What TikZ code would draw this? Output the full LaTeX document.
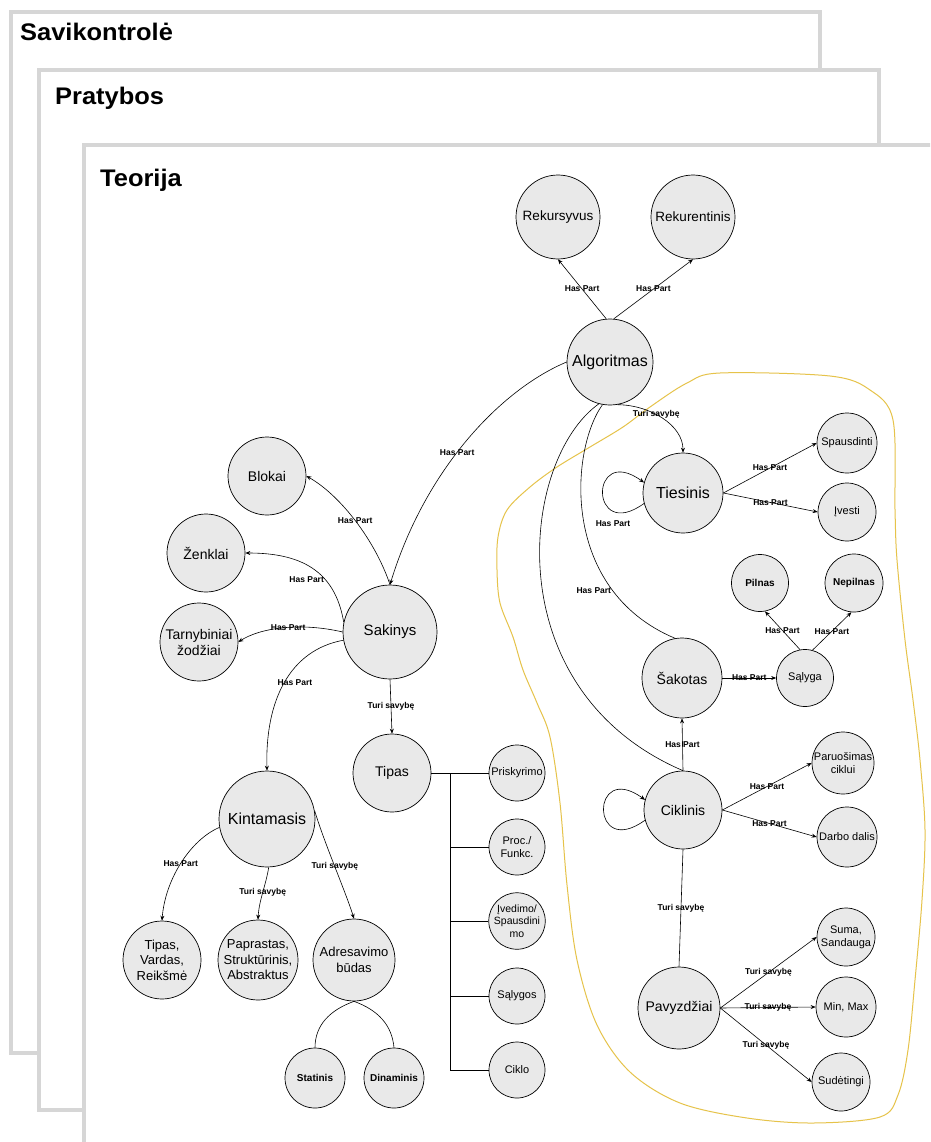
\documentclass[tikz,border=0pt]{standalone}
\usepackage{fontspec}
\setmainfont{Liberation Sans}
\usetikzlibrary{arrows.meta}
\definecolor{nodefill}{HTML}{E9E9E9}
\definecolor{framegray}{HTML}{D6D6D6}
\definecolor{lasso}{HTML}{E6C34A}

\begin{document}
\begin{tikzpicture}[x=1pt,y=-1pt,
  bub/.style={circle,draw=black,line width=0.7pt,fill=nodefill,inner sep=0pt,align=center},
  lg/.style={bub,font=\fontsize{14}{16}\selectfont},
  xl/.style={bub,font=\fontsize{16}{18}\selectfont},
  md/.style={bub,font=\fontsize{13}{15.5}\selectfont},
  sm/.style={bub,font=\fontsize{11}{13}\selectfont},
  smb/.style={bub,font=\bfseries\fontsize{10}{12}\selectfont},
  con/.style={draw=black,line width=0.6pt},
  arr/.style={-{Stealth[length=5pt,width=4pt]}},
  lbl/.style={font=\bfseries\fontsize{8.5}{9}\selectfont,inner sep=1pt},
  sheet/.style={draw=framegray,line width=3.5pt,fill=white},
  title/.style={font=\bfseries\fontsize{24}{27}\selectfont,anchor=base west,inner sep=0pt,xscale=1.06}
]
\useasboundingbox (0,0) rectangle (930,1142);
\clip (0,0) rectangle (930,1142);
\fill[white] (0,0) rectangle (930,1142);

% stacked sheets
\draw[sheet] (11,12) rectangle (820,1053);
\node[title] (t1) at (20,41) {Savikontrolė};
\draw[sheet] (39,70) rectangle (879,1110);
\node[title] (t2) at (55,105) {Pratybos};
\draw[sheet] (84,145) rectangle (945,1160);
\node[title] (t3) at (100,186) {Teorija};

% highlighted group outline
\draw[lasso,line width=1pt] plot[smooth cycle,tension=0.55] coordinates {
  (497,570) (498,537) (507,510) (530,487) (557,467) (590,447) (623,427)
  (650,407) (687,383) (720,373) (830,376) (870,390) (893,420) (895,510)
  (897,560) (905,640) (913,700) (920,760) (925,830) (922,900) (915,980)
  (908,1050) (898,1095) (880,1117) (813,1123) (747,1118) (680,1103)
  (630,1072) (597,1025) (577,960) (567,885) (560,803) (550,737) (537,703)
  (523,670) (513,637) (500,603)};

% concepts
\node[lg,minimum size=84pt,font=\fontsize{13.5}{16}\selectfont] (rek) at (558,217) {Rekursyvus};
\node[lg,minimum size=84pt,font=\fontsize{13.5}{16}\selectfont] (rekt) at (693,217) {Rekurentinis};
\node[xl,minimum size=86pt] (alg) at (610,362) {Algoritmas};
\node[lg,minimum size=78pt] (blo) at (267,476) {Blokai};
\node[lg,minimum size=78pt] (zen) at (206,553) {Ženklai};
\node[lg,minimum size=78pt] (tar) at (199,642) {Tarnybiniai\\žodžiai};
\node[lg,minimum size=94pt,font=\fontsize{15}{17}\selectfont] (sak) at (390,632) {Sakinys};
\node[lg,minimum size=78pt] (tip) at (392,773) {Tipas};
\node[xl,minimum size=96pt] (kin) at (267,819) {Kintamasis};
\node[md,minimum size=78pt] (tvr) at (162,960) {Tipas,\\Vardas,\\Reikšmė};
\node[md,minimum size=80pt] (pap) at (258,960) {Paprastas,\\Struktūrinis,\\Abstraktus};
\node[md,minimum size=82pt] (adr) at (354,960) {Adresavimo\\būdas};
\node[smb,minimum size=60pt] (sta) at (315,1078) {Statinis};
\node[smb,minimum size=60pt] (din) at (394,1078) {Dinaminis};
\node[sm,minimum size=56pt] (pri) at (517,773) {Priskyrimo};
\node[sm,minimum size=56pt] (pro) at (517,847) {Proc./\\Funkc.};
\node[sm,minimum size=56pt,font=\fontsize{10.5}{12.5}\selectfont] (ive) at (517,921) {Įvedimo/\\Spausdini\\mo};
\node[sm,minimum size=56pt] (sal) at (517,996) {Sąlygos};
\node[sm,minimum size=56pt] (cik) at (517,1070) {Ciklo};
\node[xl,minimum size=80pt] (tie) at (683,493) {Tiesinis};
\node[sm,minimum size=60pt] (spa) at (847,443) {Spausdinti};
\node[sm,minimum size=58pt] (ivs) at (847,512) {Įvesti};
\node[smb,minimum size=57pt] (pil) at (760,583) {Pilnas};
\node[smb,minimum size=58pt] (nep) at (854,583) {Nepilnas};
\node[sm,minimum size=57pt] (sly) at (805,678) {Sąlyga};
\node[lg,minimum size=80pt] (sak2) at (682,678) {Šakotas};
\node[lg,minimum size=78pt] (ckl) at (683,810) {Ciklinis};
\node[sm,minimum size=62pt] (par) at (843,763) {Paruošimas\\ciklui};
\node[sm,minimum size=60pt] (dar) at (847,837) {Darbo dalis};
\node[lg,minimum size=82pt] (pav) at (679,1008) {Pavyzdžiai};
\node[sm,minimum size=58pt] (sum) at (846,937) {Suma,\\Sandauga};
\node[sm,minimum size=60pt] (min) at (846,1007) {Min, Max};
\node[sm,minimum size=58pt] (sud) at (841,1082) {Sudėtingi};

% Algoritmas links
\draw[con,arr] (alg.95) -- (rek.south) node[lbl,midway]{Has Part};
\draw[con,arr] (alg.85) -- (rekt.south) node[lbl,midway]{Has Part};
\draw[con,arr] (alg.-80) .. controls (650,405) and (683,425) .. (tie.north)
  node[lbl,pos=0.42]{Turi savybę};
\draw[con] (alg.-100) .. controls (570,450) and (560,590) .. (sak2.100)
  node[lbl,pos=0.76,anchor=east]{Has Part};
\draw[con] (alg.-105) .. controls (520,460) and (495,690) .. (ckl.north);
\draw[con,arr] (alg.west) .. controls (500,390) and (425,470) .. (sak.north)
  node[lbl,pos=0.55]{Has Part};

% Sakinys links
\draw[con,arr] (sak.north) .. controls (375,540) and (340,495) .. (blo.east)
  node[lbl,pos=0.5]{Has Part};
\draw[con,arr] (sak.168) .. controls (335,570) and (300,553) .. (zen.east)
  node[lbl,pos=0.35,anchor=east]{Has Part};
\draw[con,arr] (sak.west) .. controls (300,622) and (260,628) .. (tar.east)
  node[lbl,pos=0.45]{Has Part};
\draw[con,arr] (sak.190) .. controls (290,650) and (265,700) .. (kin.north)
  node[lbl,pos=0.5,anchor=west,xshift=-8pt]{Has Part};
\draw[con,arr] (sak.south) -- (tip.north) node[lbl,midway]{Turi savybę};

% Tipas tree
\coordinate (trunk) at (450,773);
\draw[con] (tip.east) -- (pri.west);
\draw[con] (trunk) |- (cik.west);
\foreach \n in {pro,ive,sal} \draw[con] (trunk |- \n.west) -- (\n.west);

% Kintamasis links
\draw[con,arr] (kin.190) .. controls (190,840) and (165,880) .. (tvr.north)
  node[lbl,pos=0.5]{Has Part};
\draw[con,arr] (kin.-88) .. controls (266,885) and (259,900) .. (pap.north)
  node[lbl,pos=0.5]{Turi savybę};
\draw[con,arr] (kin.10) .. controls (325,845) and (345,890) .. (adr.north)
  node[lbl,pos=0.5]{Turi savybę};
\draw[con] (adr.south) .. controls (330,1010) and (315,1025) .. (sta.north);
\draw[con] (adr.south) .. controls (378,1010) and (392,1025) .. (din.north);

% Tiesinis links
\draw[con,arr] (tie.195) .. controls +(-55pt,-40pt) and +(-55pt,40pt) .. (tie.165)
  node[lbl,pos=0.25,below=8pt]{Has Part};
\draw[con,arr] (tie.east) -- (spa.west) node[lbl,midway]{Has Part};
\draw[con,arr] (tie.east) -- (ivs.west) node[lbl,midway]{Has Part};

% Šakotas links
\draw[con,arr] (sak2.east) -- (sly.west) node[lbl,midway]{Has Part};
\draw[con,arr] (sly.100) -- (pil.-80) node[lbl,midway]{Has Part};
\draw[con,arr] (sly.75) -- (nep.-95) node[lbl,midway]{Has Part};

% Ciklinis links
\draw[con,arr] (ckl.195) .. controls +(-55pt,-40pt) and +(-55pt,40pt) .. (ckl.165);
\draw[con,arr] (ckl.north) -- (sak2.south) node[lbl,midway]{Has Part};
\draw[con,arr] (ckl.east) -- (par.west) node[lbl,midway]{Has Part};
\draw[con,arr] (ckl.east) -- (dar.west) node[lbl,midway]{Has Part};
\draw[con] (ckl.south) -- (pav.north) node[lbl,midway]{Turi savybę};

% Pavyzdžiai links
\draw[con,arr] (pav.east) -- (sum.west) node[lbl,midway]{Turi savybę};
\draw[con,arr] (pav.east) -- (min.west) node[lbl,midway]{Turi savybę};
\draw[con,arr] (pav.east) -- (sud.west) node[lbl,midway]{Turi savybę};
\end{tikzpicture}
\end{document}
